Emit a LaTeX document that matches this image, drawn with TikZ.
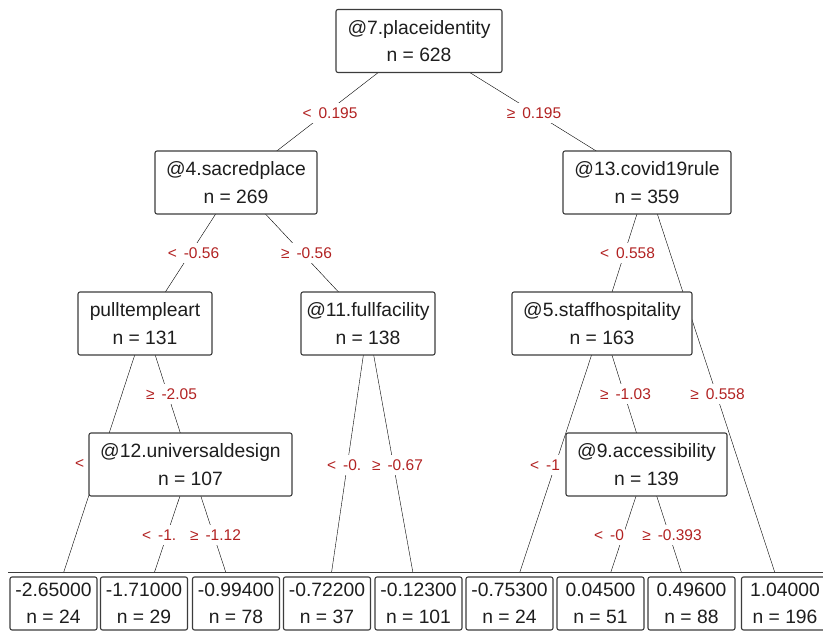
\documentclass[tikz,border=0pt]{standalone}
\usepackage{fontspec}
\setmainfont{Liberation Sans}
\usetikzlibrary{backgrounds}
\definecolor{splitred}{RGB}{178,34,34}
\definecolor{boxgray}{RGB}{60,60,60}
\definecolor{inkgray}{RGB}{30,30,30}

\begin{document}
\begin{tikzpicture}[x=1pt,y=-1pt,
  inner/.style={draw=boxgray, line width=1.1pt, fill=white, rounded corners=2pt,
    align=center, inner sep=0pt, minimum height=63pt, text=inkgray,
    font=\fontsize{19.3}{27.5}\selectfont},
  leaf/.style={inner, minimum width=87pt, minimum height=53pt},
  split/.style={fill=white, inner xsep=1pt, inner ysep=5pt, text=splitred,
    font=\fontsize{15.5}{18}\selectfont},
  edge/.style={line width=1.5pt, black!90}
]
\useasboundingbox (0,0) rectangle (823,632);

% inner (split) nodes
\node[inner, minimum width=166pt] (n7)  at (419,41)      {@7.placeidentity\\n = 628};
\node[inner, minimum width=162pt] (n4)  at (236,182.5)   {@4.sacredplace\\n = 269};
\node[inner, minimum width=168pt] (n13) at (647,182.5)   {@13.covid19rule\\n = 359};
\node[inner, minimum width=134pt] (n3)  at (145,323.5)   {pulltempleart\\n = 131};
\node[inner, minimum width=134pt] (n11) at (368,323.5)   {@11.fullfacility\\n = 138};
\node[inner, minimum width=180pt] (n5)  at (602,323.5)   {@5.staffhospitality\\n = 163};
\node[inner, minimum width=203pt] (n12) at (190.5,464.5) {@12.universaldesign\\n = 107};
\node[inner, minimum width=161pt] (n9)  at (646.5,464.5) {@9.accessibility\\n = 139};

% split labels on the edges
\node[split] (s1)  at (330,113)   {<\hskip.45em 0.195};
\node[split] (s2)  at (534,113)   {≥\hskip.45em 0.195};
\node[split] (s3)  at (193.5,253) {<\hskip.45em -0.56};
\node[split] (s4)  at (306.5,253) {≥\hskip.45em -0.56};
\node[split] (s5)  at (627.5,253) {<\hskip.45em 0.558};
\node[split] (s6)  at (171.5,394) {≥\hskip.45em -2.05};
\node[split] (s7)  at (625.5,394) {≥\hskip.45em -1.03};
\node[split] (s8)  at (717.5,394) {≥\hskip.45em 0.558};
\node[split, anchor=west] (s9)  at (74,463.5) {<};
\node[split, anchor=west] (s10) at (326,465)  {<\hskip.45em -0.};
\node[split] (s11) at (397.5,465) {≥\hskip.45em -0.67};
\node[split, anchor=west] (s12) at (529,465)  {<\hskip.45em -1};
\node[split, anchor=west] (s13) at (141,535)  {<\hskip.45em -1.};
\node[split] (s14) at (215.5,535) {≥\hskip.45em -1.12};
\node[split, anchor=west] (s15) at (593,535)  {<\hskip.45em -0};
\node[split] (s16) at (672,535)   {≥\hskip.45em -0.393};

% panel holding the terminal nodes
\fill[white] (8,572.5) rectangle (823,632);
\draw[line width=1.1pt, boxgray] (8,572.5) -- (823,572.5);

% terminal nodes
\node[leaf] (l1) at (53.5,603.5)  {-2.65000\\n = 24};
\node[leaf] (l2) at (144,603.5)   {-1.71000\\n = 29};
\node[leaf] (l3) at (236,603.5)   {-0.99400\\n = 78};
\node[leaf] (l4) at (327,603.5)   {-0.72200\\n = 37};
\node[leaf] (l5) at (418.5,603.5) {-0.12300\\n = 101};
\node[leaf] (l6) at (509.5,603.5) {-0.75300\\n = 24};
\node[leaf] (l7) at (600.5,603.5) {0.04500\\n = 51};
\node[leaf] (l8) at (691.5,603.5) {0.49600\\n = 88};
\node[leaf] (l9) at (785,603.5)   {1.04000\\n = 196};

% edges, centre to centre, kept behind the boxes
\begin{scope}[on background layer, edge]
\draw (n7.center)  -- (n4.center);
\draw (n7.center)  -- (n13.center);
\draw (n4.center)  -- (n3.center);
\draw (n4.center)  -- (n11.center);
\draw (n13.center) -- (n5.center);
\draw (n13.center) -- (l9.center);
\draw (n3.center)  -- (l1.center);
\draw (n3.center)  -- (n12.center);
\draw (n12.center) -- (l2.center);
\draw (n12.center) -- (l3.center);
\draw (n11.center) -- (l4.center);
\draw (n11.center) -- (l5.center);
\draw (n5.center)  -- (l6.center);
\draw (n5.center)  -- (n9.center);
\draw (n9.center)  -- (l7.center);
\draw (n9.center)  -- (l8.center);
\end{scope}
\end{tikzpicture}
\end{document}
